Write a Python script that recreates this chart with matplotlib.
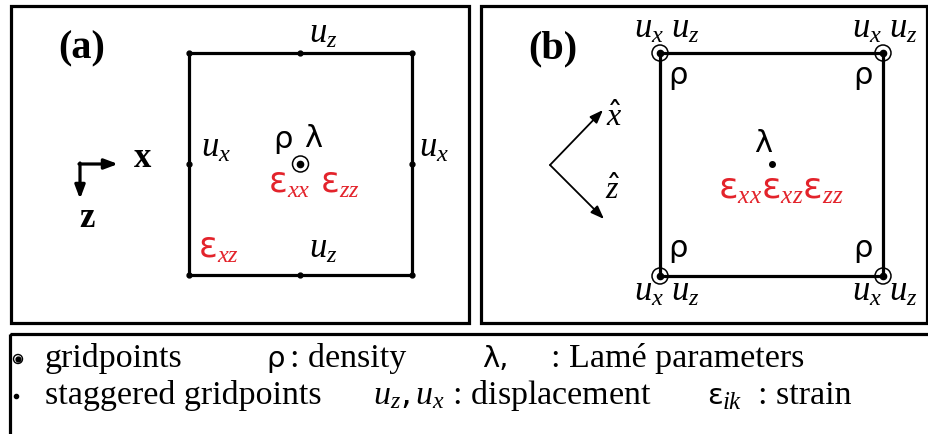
import numpy as np
import matplotlib.pyplot as plt
from matplotlib.patches import Rectangle, Circle, FancyArrowPatch

plt.rcParams['mathtext.fontset'] = 'custom'
plt.rcParams['mathtext.rm'] = 'DejaVu Sans'
plt.rcParams['mathtext.it'] = 'Liberation Serif:italic'
plt.rcParams['mathtext.bf'] = 'Liberation Serif:bold'

RED = '#e3232b'
SERIF = 'Liberation Serif'
SANS = 'DejaVu Sans'

# panel labels
panel_labels = ['(a)', '(b)']
panel_label_x = [82, 553]

# cell (a): staggered grid, cell (b): rotated grid
cell_a = [189, 53, 412, 275]       # left, top, right, bottom
cell_b = [660, 53, 883, 276]

# labels around cell (a): text, x, baseline y, colour
labels_a = [
    (r'$u_z$', 323, 43, 'k'),
    (r'$u_z$', 323, 258, 'k'),
    (r'$u_x$', 216, 157, 'k'),
    (r'$u_x$', 434, 157, 'k'),
    (r'$\mathrm{\varepsilon}_{xx}$', 289, 193, RED),
    (r'$\mathrm{\varepsilon}_{zz}$', 340, 193, RED),
    (r'$\mathrm{\varepsilon}_{xz}$', 219, 258, RED),
]
greek_a = [('ρ', 283, 148), ('λ', 313, 147)]

labels_b = [
    (r'$u_x\ u_z$', 667, 38),
    (r'$u_x\ u_z$', 885, 38),
    (r'$u_x\ u_z$', 667, 301),
    (r'$u_x\ u_z$', 885, 301),
]
rho_b = [(678, 84), (863, 84), (678, 257), (863, 257)]

# legend rows: (text, left x, baseline offset, kind)
legend_row1 = [('gridpoints', 45, 0, 'rm'), ('ρ', 266, 0, 'greek'), (': density', 290, 0, 'rm'),
               ('λ,', 482, 0, 'greek'), (': Lamé parameters', 551, 0, 'rm')]
legend_row2 = [('staggered gridpoints', 45, 0, 'rm'),
               (r'$u_z, u_x$ : displacement', 373, 0, 'rm'),
               ('ε', 707, 0, 'greek'), ('ik', 723, 5, 'sub'), (': strain', 758, 0, 'rm')]

fig = plt.figure(figsize=(9.29, 4.34), dpi=100)
ax = fig.add_axes([0, 0, 1, 1])
ax.set_xlim(0, 929)
ax.set_ylim(434, 0)
ax.axis('off')

# frames
for x0, y0, x1, y1 in [(11, 6, 469, 323), (481, 6, 927, 323), (10, 334, 940, 450)]:
    ax.add_patch(Rectangle((x0, y0), x1 - x0, y1 - y0, fill=False, lw=2.3,
                           ec='k', clip_on=False))

for lab, x in zip(panel_labels, panel_label_x):
    ax.text(x, 58, lab, ha='center', va='baseline', fontsize=29,
            fontweight='bold', family=SERIF)


def gridpoint(x, y, r=8, lw=1.1, ms=4.5):
    ax.add_patch(Circle((x, y), r, fill=False, lw=lw, ec='k', zorder=5))
    ax.plot(x, y, 'o', ms=ms, color='k', zorder=6)


def arrow(p0, p1, lw):
    ax.add_patch(FancyArrowPatch(p0, p1, arrowstyle='-|>,head_length=0.8,head_width=0.3',
                                 mutation_scale=10, lw=lw, color='k', shrinkA=0, shrinkB=0))


# cell (a)
l, t, r, b = cell_a
ax.plot([l, r, r, l, l], [t, t, b, b, t], color='k', lw=2.3)
mx, my = (l + r) / 2, (t + b) / 2
sx = [l, mx, r, l, r, l, mx, r]
sy = [t, t, t, my, my, b, b, b]
ax.plot(sx, sy, 'o', ms=3.5, color='k', ls='none')
gridpoint(mx, my)
for s, x, y, c in labels_a:
    ax.text(x, y, s, ha='center', va='baseline', fontsize=25, color=c)
for s, x, y in greek_a:
    ax.text(x, y, s, ha='center', va='baseline', fontsize=22, family=SANS)

# axes (a)
arrow((79, 164), (118, 164), 2.3)
arrow((80, 163), (80, 199), 2.3)
ax.text(143, 167, 'x', ha='center', va='baseline', fontsize=25, family=SERIF, fontweight='bold')
ax.text(87, 227, 'z', ha='center', va='baseline', fontsize=25, family=SERIF, fontweight='bold')

# cell (b)
l, t, r, b = cell_b
ax.plot([l, r, r, l, l], [t, t, b, b, t], color='k', lw=2.3)
for x, y in [(l, t), (r, t), (l, b), (r, b)]:
    gridpoint(x, y)
ax.plot(772, 164, 'o', ms=4, color='k')
for s, x, y in labels_b:
    ax.text(x, y, s, ha='center', va='baseline', fontsize=25)
for x, y in rho_b:
    ax.text(x, y, 'ρ', ha='center', va='baseline', fontsize=22, family=SANS)
ax.text(763, 152, 'λ', ha='center', va='baseline', fontsize=22, family=SANS)
ax.text(781, 199, r'$\mathrm{\varepsilon}_{xx}\mathrm{\varepsilon}_{xz}\mathrm{\varepsilon}_{zz}$',
        ha='center', va='baseline', fontsize=26, color=RED)

# rotated axes (b)
for tip in [(603, 110), (604, 219)]:
    arrow((550, 165), tip, 1.3)
ax.text(614, 126, r'$\hat{x}$', ha='center', va='baseline', fontsize=23)
ax.text(613, 199, r'$\hat{z}$', ha='center', va='baseline', fontsize=23)

# legend box
gridpoint(18, 359, r=4.5, lw=1.0, ms=3.5)
ax.plot(16, 396, 'o', ms=3, color='k')
styles = {'rm': dict(fontsize=24.5, family=SERIF),
          'greek': dict(fontsize=21, family=SANS),
          'sub': dict(fontsize=18, family=SERIF, style='italic')}
for row, y in [(legend_row1, 367), (legend_row2, 404)]:
    for s, x, dy, kind in row:
        ax.text(x, y + dy, s, ha='left', va='baseline', **styles[kind])

fig.savefig('out.png', dpi=100)
